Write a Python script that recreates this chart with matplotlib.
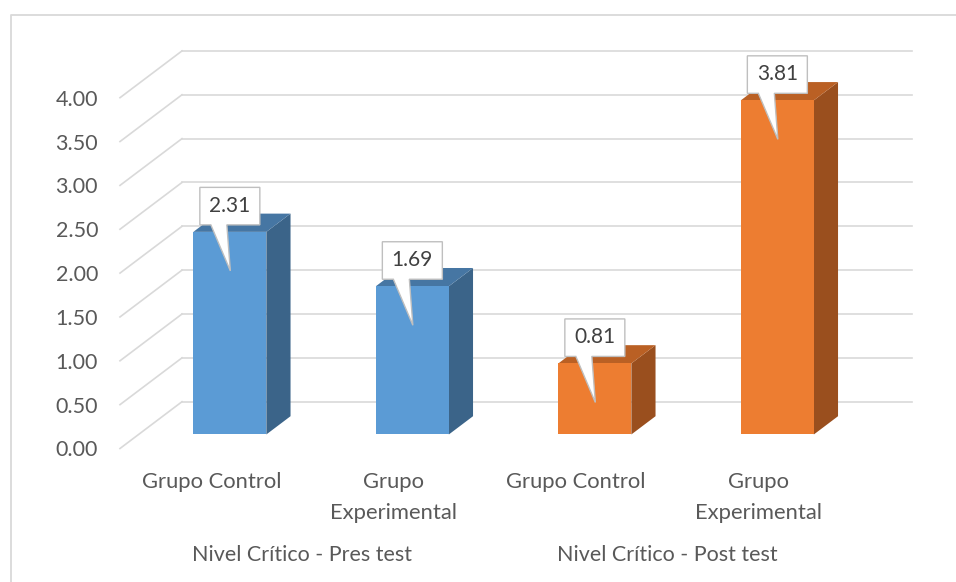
import matplotlib
matplotlib.use("Agg")
import matplotlib.pyplot as plt
from matplotlib.patches import Polygon
from matplotlib.lines import Line2D
import matplotlib.transforms as mtransforms

plt.rcParams['font.family'] = ['Lato', 'DejaVu Sans']

# ---- data ----
categories = ["Grupo Control", "Grupo\nExperimental", "Grupo Control", "Grupo\nExperimental"]
groups = ["Nivel Crítico - Pres test", "Nivel Crítico - Post test"]
values = [2.31, 1.69, 0.81, 3.81]
yticks = [0.0, 0.5, 1.0, 1.5, 2.0, 2.5, 3.0, 3.5, 4.0]

front_colors = ["#5B9BD5", "#5B9BD5", "#ED7D31", "#ED7D31"]
top_colors = ["#4676A3", "#4676A3", "#BA6024", "#BA6024"]
side_colors = ["#3B6489", "#3B6489", "#9A4F1E", "#9A4F1E"]

W, H, DPI = 956, 582, 100
fig = plt.figure(figsize=(W / DPI, H / DPI), dpi=DPI)

# front plane axes (pixels from top-left)
left_px, right_px = 120, 850
y0_px, y4_px = 448.5, 97.7
ax = fig.add_axes([left_px / W, 1 - y0_px / H, (right_px - left_px) / W, (y0_px - y4_px) / H])
ax.set_xlim(-0.5, 3.5)
ax.set_ylim(0, 4)
for s in ax.spines.values():
    s.set_visible(False)

# depth offsets in data units per unit depth
px_per_x = (right_px - left_px) / 4.0
px_per_y = (y0_px - y4_px) / 4.0
dxz = 62.0 / px_per_x
dyz = 46.8 / px_per_y

grid_c = "#D9D9D9"
for v in yticks:
    ax.plot([-0.5, -0.5 + dxz], [v, v + dyz], color=grid_c, lw=1.2, clip_on=False, zorder=1)
    ax.plot([-0.5 + dxz, 3.5 + dxz], [v + dyz, v + dyz], color=grid_c, lw=1.2, clip_on=False, zorder=1)

# bars
z0, z1 = 0.30, 0.69
bw = 0.40
xs = list(range(len(values)))
ax.bar([x + z0 * dxz for x in xs], values, width=bw, bottom=z0 * dyz,
       color=front_colors, zorder=3, clip_on=False)
for x, v, tc, sc in zip(xs, values, top_colors, side_colors):
    xl, xr = x - bw / 2, x + bw / 2
    side = [(xr + z0 * dxz, z0 * dyz), (xr + z1 * dxz, z1 * dyz),
            (xr + z1 * dxz, v + z1 * dyz), (xr + z0 * dxz, v + z0 * dyz)]
    top = [(xl + z0 * dxz, v + z0 * dyz), (xr + z0 * dxz, v + z0 * dyz),
           (xr + z1 * dxz, v + z1 * dyz), (xl + z1 * dxz, v + z1 * dyz)]
    ax.add_patch(Polygon(side, closed=True, facecolor=sc, edgecolor="none", zorder=2, clip_on=False))
    ax.add_patch(Polygon(top, closed=True, facecolor=tc, edgecolor="none", zorder=2, clip_on=False))

# callout labels (shape in pixels relative to bar front top centre)
callout = [(-30, 44.5), (30, 44.5), (30, 7), (-3, 7), (0.5, -39), (-19, 7), (-30, 7)]
for x, v in zip(xs, values):
    anchor = mtransforms.ScaledTranslation(x + z0 * dxz, v + z0 * dyz, ax.transData)
    tr = mtransforms.Affine2D().scale(fig.dpi / DPI) + anchor
    ax.add_patch(Polygon(callout, closed=True, facecolor="white", edgecolor="#BFBFBF",
                         lw=1.0, transform=tr, zorder=5, clip_on=False))
    ttr = mtransforms.Affine2D().translate(0, 26 * fig.dpi / DPI) + anchor
    ax.text(0, 0, f"{v:.2f}", transform=ttr, ha="center", va="center",
            fontsize=15, color="#404040", zorder=6)

# axes ticks
ax.set_yticks(yticks)
ax.set_yticklabels([f"{t:.2f}" for t in yticks])
ax.set_xticks(xs)
ax.set_xticklabels(categories, linespacing=1.68)
ax.tick_params(axis="y", length=0, pad=15.8, labelsize=15.5, labelcolor="#595959")
ax.tick_params(axis="x", length=0, pad=17, labelsize=15.8, labelcolor="#595959")

# group labels
for gi, g in enumerate(groups):
    ax.text(gi * 2 + 0.5, -106.5 / (y0_px - y4_px), g, transform=ax.get_xaxis_transform(),
            ha="center", va="center", fontsize=15.5, color="#595959")

# chart border (left and top)
bx, by = 11 / W, 1 - 14.5 / H
fig.add_artist(Line2D([bx, bx, 1.0], [0.0, by, by], transform=fig.transFigure,
                      color="#D9D9D9", lw=1.3))

fig.savefig("out.png", dpi=DPI)
